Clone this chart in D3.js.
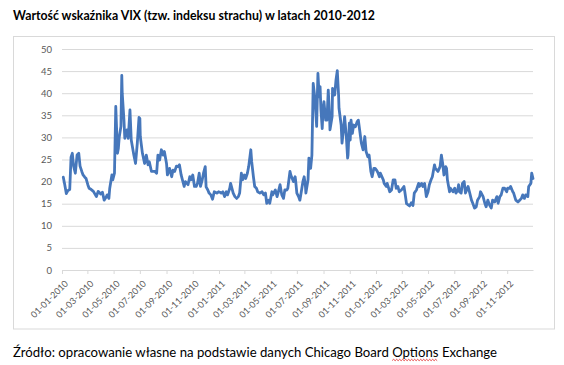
<!DOCTYPE html>
<html>
<head>
<meta charset="utf-8">
<script src="https://cdn.jsdelivr.net/npm/d3@7/dist/d3.min.js"></script>
<style>
  html, body { margin: 0; padding: 0; background: #fff; }
  svg { display: block; }
</style>
</head>
<body>
<svg id="chart" width="564" height="365"></svg>
<script>
// ---- data ----
const titleText = "Wartość wskaźnika VIX (tzw. indeksu strachu) w latach 2010-2012";
const sourceText = "Źródło: opracowanie własne na podstawie danych Chicago Board Options Exchange";
const yTicks = [0, 5, 10, 15, 20, 25, 30, 35, 40, 45, 50];
const xTickLabels = ["01-01-2010","01-03-2010","01-05-2010","01-07-2010","01-09-2010","01-11-2010",
  "01-01-2011","01-03-2011","01-05-2011","01-07-2011","01-09-2011","01-11-2011",
  "01-01-2012","01-03-2012","01-05-2012","01-07-2012","01-09-2012","01-11-2012"];

const vix2010 = [
 ["2010-01-04",21.0],["2010-01-07",19.5],["2010-01-11",17.3],["2010-01-15",18.0],["2010-01-19",18.2],
 ["2010-01-22",25.5],["2010-01-25",26.4],["2010-01-28",23.5],["2010-02-01",21.9],["2010-02-05",26.0],
 ["2010-02-09",26.4],["2010-02-12",23.5],["2010-02-16",22.3],["2010-02-19",21.5],["2010-02-23",21.0],
 ["2010-02-26",20.7],["2010-03-02",19.3],["2010-03-05",18.5],["2010-03-10",18.2],["2010-03-15",17.8],
 ["2010-03-22",16.6],["2010-03-26",17.8],["2010-04-01",17.2],["2010-04-05",17.6],["2010-04-09",15.8],
 ["2010-04-13",16.4],["2010-04-16",17.0],["2010-04-20",16.2],["2010-04-22",18.5],["2010-04-27",21.5],
 ["2010-04-29",20.4],["2010-05-03",21.9],["2010-05-06",37.0],["2010-05-10",26.4],["2010-05-12",27.5],
 ["2010-05-14",30.0],["2010-05-18",32.5],["2010-05-20",44.0],["2010-05-21",40.0],["2010-05-25",34.0],
 ["2010-05-27",29.8],["2010-06-01",31.7],["2010-06-04",29.8],["2010-06-08",36.2],["2010-06-11",29.4],
 ["2010-06-17",26.0],["2010-06-21",24.1],["2010-06-25",28.6],["2010-06-29",34.5],["2010-07-01",34.3],
 ["2010-07-02",30.2],["2010-07-07",26.4],["2010-07-12",24.1],["2010-07-16",26.0],["2010-07-20",23.8],
 ["2010-07-23",24.5],["2010-07-28",22.3],["2010-08-05",22.3],["2010-08-09",21.9],["2010-08-12",26.0],
 ["2010-08-16",24.9],["2010-08-20",27.2],["2010-08-24",26.0],["2010-08-27",26.8],["2010-09-01",24.1],
 ["2010-09-03",21.5],["2010-09-08",23.0],["2010-09-13",21.1],["2010-09-16",22.6],["2010-09-20",22.3],
 ["2010-09-24",23.5],["2010-09-28",23.4],["2010-10-01",23.8],["2010-10-05",21.5],["2010-10-08",20.4],
 ["2010-10-12",18.9],["2010-10-15",20.0],["2010-10-21",19.3],["2010-10-25",21.1],["2010-10-28",20.4],
 ["2010-11-01",21.5],["2010-11-05",18.9],["2010-11-09",18.9],["2010-11-12",19.6],["2010-11-16",21.9],
 ["2010-11-19",18.9],["2010-11-23",20.4],["2010-11-26",21.9],["2010-11-30",23.4],["2010-12-02",18.8],
 ["2010-12-06",18.1],["2010-12-09",17.4],["2010-12-13",17.0],["2010-12-17",16.0],["2010-12-21",17.7],
 ["2010-12-27",17.4],["2010-12-31",17.7]
];
const vix2011 = [
 ["2011-01-03",17.6],["2011-01-06",17.4],["2011-01-10",17.7],["2011-01-14",16.6],["2011-01-18",17.7],
 ["2011-01-21",17.0],["2011-01-26",18.5],["2011-01-28",19.6],["2011-02-03",17.4],["2011-02-07",16.6],
 ["2011-02-11",16.2],["2011-02-15",16.6],["2011-02-18",17.4],["2011-02-22",21.9],["2011-02-25",20.4],
 ["2011-03-01",21.5],["2011-03-04",20.7],["2011-03-08",21.9],["2011-03-11",23.4],["2011-03-16",27.2],
 ["2011-03-18",24.5],["2011-03-22",21.1],["2011-03-25",18.9],["2011-03-29",18.5],["2011-04-01",17.7],
 ["2011-04-06",17.4],["2011-04-11",17.7],["2011-04-15",17.0],["2011-04-19",17.4],["2011-04-22",15.1],
 ["2011-04-26",15.8],["2011-04-29",15.1],["2011-05-04",17.7],["2011-05-06",17.0],["2011-05-12",18.1],
 ["2011-05-16",16.6],["2011-05-19",17.7],["2011-05-23",19.3],["2011-05-27",17.0],["2011-05-31",16.2],
 ["2011-06-03",18.1],["2011-06-08",18.1],["2011-06-10",18.5],["2011-06-15",22.3],["2011-06-17",21.5],
 ["2011-06-23",20.0],["2011-06-27",21.1],["2011-06-28",20.4],["2011-07-01",17.4],["2011-07-05",16.6],
 ["2011-07-08",15.8],["2011-07-12",18.1],["2011-07-15",20.0],["2011-07-18",21.1],["2011-07-21",18.9],
 ["2011-07-22",17.4],["2011-07-27",20.4],["2011-07-29",25.3],["2011-08-02",23.0],["2011-08-05",26.0],
 ["2011-08-08",42.2],["2011-08-12",38.8],["2011-08-16",32.5],["2011-08-18",40.7],["2011-08-19",44.5],
 ["2011-08-22",39.2],["2011-08-24",41.5],["2011-08-26",36.2],["2011-08-29",32.0],["2011-08-31",36.6],
 ["2011-09-02",38.1],["2011-09-06",33.9],["2011-09-09",33.9],["2011-09-12",40.7],["2011-09-15",35.1],
 ["2011-09-16",31.7],["2011-09-21",34.7],["2011-09-22",41.1],["2011-09-27",39.6],["2011-09-30",43.0],
 ["2011-10-03",45.1],["2011-10-06",39.6],["2011-10-07",36.6],["2011-10-12",32.8],["2011-10-14",28.7],
 ["2011-10-18",32.4],["2011-10-20",34.7],["2011-10-24",30.2],["2011-10-27",25.3],["2011-10-28",26.0],
 ["2011-10-31",33.2],["2011-11-02",29.4],["2011-11-04",33.9],["2011-11-07",30.9],["2011-11-10",32.8],
 ["2011-11-14",32.4],["2011-11-18",33.5],["2011-11-21",33.9],["2011-11-23",32.4],["2011-11-28",28.7],
 ["2011-12-02",27.2],["2011-12-06",30.2],["2011-12-09",26.8],["2011-12-13",25.6],["2011-12-16",26.0],
 ["2011-12-20",22.3],["2011-12-23",21.1],["2011-12-27",23.0],["2011-12-30",23.0]
];
const vix2012 = [
 ["2012-01-03",22.5],["2012-01-06",21.9],["2012-01-09",21.1],["2012-01-11",21.9],["2012-01-18",20.4],
 ["2012-01-20",19.6],["2012-01-25",18.9],["2012-01-27",19.6],["2012-02-02",17.7],["2012-02-06",18.1],
 ["2012-02-10",20.4],["2012-02-14",20.4],["2012-02-17",18.5],["2012-02-21",18.9],["2012-02-24",17.7],
 ["2012-02-29",18.1],["2012-03-06",18.9],["2012-03-08",17.7],["2012-03-12",15.0],["2012-03-15",14.8],
 ["2012-03-19",14.5],["2012-03-23",15.2],["2012-03-27",14.6],["2012-03-30",17.4],["2012-04-04",18.1],
 ["2012-04-09",19.6],["2012-04-11",18.9],["2012-04-16",19.6],["2012-04-19",18.9],["2012-04-23",19.6],
 ["2012-04-27",16.6],["2012-05-01",17.7],["2012-05-04",19.3],["2012-05-08",20.4],["2012-05-11",21.1],
 ["2012-05-16",23.8],["2012-05-18",23.0],["2012-05-24",22.3],["2012-05-29",23.4],["2012-06-01",26.0],
 ["2012-06-04",24.1],["2012-06-07",21.5],["2012-06-11",23.4],["2012-06-13",23.0],["2012-06-15",20.4],
 ["2012-06-20",17.7],["2012-06-22",18.5],["2012-06-28",17.7],["2012-07-02",18.5],["2012-07-05",17.4],
 ["2012-07-09",18.1],["2012-07-11",19.3],["2012-07-13",17.7],["2012-07-17",17.4],["2012-07-20",19.6],
 ["2012-07-24",20.0],["2012-07-27",17.4],["2012-08-02",18.9],["2012-08-06",17.4],["2012-08-10",15.8],
 ["2012-08-13",15.1],["2012-08-17",14.0],["2012-08-21",14.3],["2012-08-24",15.8],["2012-08-29",16.6],
 ["2012-08-31",17.7],["2012-09-06",16.6],["2012-09-10",15.1],["2012-09-13",14.3],["2012-09-17",15.8],
 ["2012-09-21",14.7],["2012-09-25",14.0],["2012-09-28",15.8],["2012-10-03",15.4],["2012-10-08",16.6],
 ["2012-10-11",15.1],["2012-10-15",16.6],["2012-10-18",17.0],["2012-10-22",18.5],["2012-10-26",18.5],
 ["2012-10-31",17.7],["2012-11-02",18.5],["2012-11-07",18.5],["2012-11-09",18.9],["2012-11-14",17.7],
 ["2012-11-16",17.4],["2012-11-21",15.8],["2012-11-26",15.4],["2012-11-30",15.8],["2012-12-04",16.2],
 ["2012-12-07",17.0],["2012-12-11",16.2],["2012-12-14",17.0],["2012-12-19",16.6],["2012-12-21",18.9],
 ["2012-12-26",19.6],["2012-12-28",21.9],["2012-12-31",20.7]
];

// ---- chart ----
const parseISO = d3.timeParse("%Y-%m-%d");
const parseLabel = d3.timeParse("%d-%m-%Y");
const series = vix2010.concat(vix2011, vix2012).map(d => ({date: parseISO(d[0]), value: d[1]}));
const tickDates = xTickLabels.map(parseLabel);

const FONT = "Lato, 'Open Sans', 'Liberation Sans', sans-serif";
const svg = d3.select("#chart");
svg.append("rect").attr("width", 564).attr("height", 365).attr("fill", "#fff");

// title
svg.append("text")
  .attr("x", 13).attr("y", 20)
  .attr("font-family", FONT).attr("font-weight", "bold").attr("font-size", 13.5)
  .attr("fill", "#000")
  .attr("textLength", 362).attr("lengthAdjust", "spacingAndGlyphs")
  .text(titleText);

// chart frame
svg.append("rect")
  .attr("x", 13.5).attr("y", 36.5).attr("width", 541).attr("height", 292.5)
  .attr("fill", "#fff").attr("stroke", "#d9d9d9").attr("stroke-width", 1);

const plotLeft = 62, plotRight = 533, plotTop = 49, plotBottom = 270;
const x = d3.scaleTime().domain([parseISO("2010-01-01"), parseISO("2012-12-31")]).range([plotLeft, plotRight]);
const y = d3.scaleLinear().domain([0, 50]).range([plotBottom, plotTop]);

// y axis with gridlines
const yAxis = svg.append("g")
  .attr("transform", `translate(${plotLeft},0)`)
  .call(d3.axisLeft(y).tickValues(yTicks).tickSize(-(plotRight - plotLeft)).tickPadding(10));
yAxis.select(".domain").remove();
yAxis.selectAll(".tick line").attr("stroke", "#d9d9d9").attr("stroke-width", 1);
yAxis.selectAll(".tick text")
  .attr("font-family", FONT).attr("font-size", 9.5).attr("fill", "#595959");

// x axis
const xAxis = svg.append("g")
  .attr("transform", `translate(0,${plotBottom})`)
  .call(d3.axisBottom(x).tickValues(tickDates).tickSize(4).tickSizeOuter(0)
    .tickFormat((d, i) => xTickLabels[i]));
xAxis.select(".domain").attr("stroke", "#d9d9d9");
xAxis.selectAll(".tick line").attr("stroke", "#d9d9d9");
xAxis.selectAll(".tick text")
  .attr("font-family", FONT).attr("font-size", 9).attr("fill", "#595959")
  .attr("text-anchor", "end")
  .attr("x", 0).attr("y", 0).attr("dy", "0.35em")
  .attr("transform", "translate(4,12) rotate(-45)");

// line
const line = d3.line().x(d => x(d.date)).y(d => y(d.value));
svg.append("path")
  .datum(series)
  .attr("d", line)
  .attr("fill", "none")
  .attr("stroke", "#4677bb")
  .attr("stroke-width", 2.8)
  .attr("stroke-linejoin", "round")
  .attr("stroke-linecap", "round");

// source text
const src = svg.append("text")
  .attr("x", 13).attr("y", 357)
  .attr("font-family", FONT).attr("font-size", 14).attr("fill", "#000")
  .attr("textLength", 484).attr("lengthAdjust", "spacingAndGlyphs")
  .text(sourceText);

// red spell-check squiggle under "Options"
try {
  const idx = sourceText.indexOf("Options");
  const node = src.node();
  const x1 = node.getStartPositionOfChar(idx).x;
  const x2 = node.getEndPositionOfChar(idx + 6).x;
  let d = `M${x1},360.5`;
  let up = true;
  for (let xx = x1 + 1.5; xx <= x2; xx += 1.5) {
    d += ` L${xx},${up ? 359.3 : 360.7}`;
    up = !up;
  }
  svg.append("path").attr("d", d).attr("fill", "none").attr("stroke", "#e02020").attr("stroke-width", 0.8);
} catch (e) {}
</script>
</body>
</html>
